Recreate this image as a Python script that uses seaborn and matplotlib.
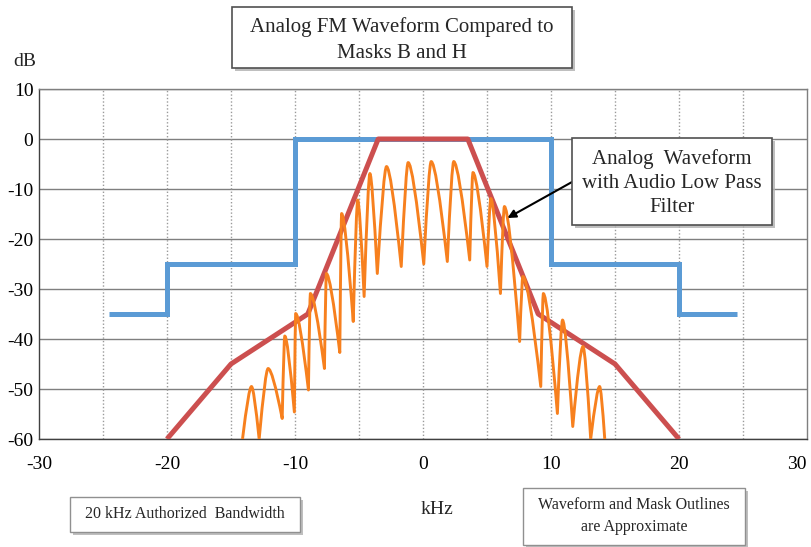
import numpy as np
import pandas as pd
import seaborn as sns
import matplotlib.pyplot as plt
import matplotlib.patheffects as pe
from matplotlib.path import Path
from matplotlib.patches import PathPatch, Rectangle

# mask B (blue) and mask H (red) outlines, kHz vs dB
mask_b_khz = [-24.5, -20, -20, -10, -10, 10, 10, 20, 20, 24.5]
mask_b_db = [-35, -35, -25, -25, 0, 0, -25, -25, -35, -35]
mask_h_khz = [-20, -15, -9, -3.5, 3.5, 9, 15, 20]
mask_h_db = [-60, -45, -35, 0, 0, -35, -45, -60]

# analog FM waveform: alternating trough / peak points
wave_khz = [-14.1, -13.4, -12.8, -12.1, -11.0, -10.8, -10.05, -9.95, -8.95, -8.8,
            -7.7, -7.55, -6.5, -6.36, -5.45, -5.1, -4.6, -4.15, -3.57, -2.85,
            -1.7, -1.16, 0.06, 0.64, 1.9, 2.4, 3.65, 3.9, 5.0, 5.3,
            6.05, 6.36, 7.55, 7.8, 9.2, 9.4, 10.5, 10.9, 11.7, 12.5,
            13.1, 13.8, 14.2]
wave_db = [-60, -49.5, -60, -45.9, -55.9, -39.4, -54.6, -34.9, -50.2, -30.9,
           -45.9, -26.9, -42.7, -14.9, -36.5, -12.2, -31.5, -6.9, -26.9, -5.5,
           -25.5, -4.7, -25.0, -4.5, -24.5, -4.5, -24.2, -6.7, -25.5, -11.9,
           -30.9, -13.5, -40.5, -27.5, -49.5, -30.9, -54.9, -36.2, -57.5, -41.5,
           -60, -49.5, -60]

x_ticks = [-30, -20, -10, 0, 10, 20, 30]
y_ticks = [10, 0, -10, -20, -30, -40, -50, -60]

sns.set_style('white')
plt.rcParams['font.family'] = ['Liberation Serif', 'DejaVu Serif']
plt.rcParams['axes.unicode_minus'] = False

W, H = 811, 547
fig = plt.figure(figsize=(W / 100, H / 100), dpi=100)
ax = fig.add_axes([39 / W, 108 / H, 768 / W, 350 / H])

masks = pd.DataFrame({'khz': mask_b_khz, 'db': mask_b_db})
sns.lineplot(data=masks, x='khz', y='db', sort=False, estimator=None, ax=ax,
             color='#5b9bd5', lw=3.6, solid_joinstyle='miter', solid_capstyle='butt', zorder=3)
maskh = pd.DataFrame({'khz': mask_h_khz, 'db': mask_h_db})
sns.lineplot(data=maskh, x='khz', y='db', sort=False, estimator=None, ax=ax,
             color='#cc4f4f', lw=3.6, solid_joinstyle='round', solid_capstyle='butt', zorder=4)

# waveform lobes drawn as rounded arches through the listed troughs/peaks
verts = [(wave_khz[0], wave_db[0])]
codes = [Path.MOVETO]
for i in range(1, len(wave_khz) - 1, 2):
    x0 = wave_khz[i - 1]
    xp, yp = wave_khz[i], wave_db[i]
    x1, y1 = wave_khz[i + 1], wave_db[i + 1]
    verts += [(x0 + 0.7 * (xp - x0), yp), (xp, yp), (x1 - 0.7 * (x1 - xp), yp), (x1, y1)]
    codes += [Path.CURVE3] * 4
ax.add_patch(PathPatch(Path(verts, codes), fill=False, edgecolor='#f7801e', lw=2.1,
                       joinstyle='round', zorder=5))

ax.set_xlim(-30, 30)
ax.set_ylim(-60, 10)
ax.set_xticks(x_ticks)
ax.set_yticks(y_ticks)
ax.set_xlabel('')
ax.set_ylabel('')
ax.tick_params(length=0, labelsize=14, colors='black')
ax.tick_params(axis='x', pad=12)
ax.tick_params(axis='y', pad=4)
ax.get_xticklabels()[-1].set_horizontalalignment('right')

for y in y_ticks:
    ax.axhline(y, color='#7f7f7f', lw=1.0, zorder=1)
for x in range(-25, 30, 5):
    ax.axvline(x, color='#9a9a9a', lw=1.0, ls=(0, (1, 1.5)), zorder=1)
for s in ax.spines.values():
    s.set_color('#7f7f7f')
    s.set_linewidth(1.0)
ax.spines['left'].set_color('#404040')
ax.spines['bottom'].set_color('#404040')

shadow = [pe.withSimplePatchShadow(offset=(2, -2), shadow_rgbFace='#b0b0b0', alpha=0.8)]


def box(x0, y0, x1, y1, ec='#505050', lw=1.2):
    # rectangle in pixel coordinates from the top-left corner
    r = Rectangle((x0 / W, 1 - y1 / H), (x1 - x0) / W, (y1 - y0) / H, transform=fig.transFigure,
                  fc='white', ec=ec, lw=lw, zorder=6)
    r.set_path_effects(shadow)
    fig.add_artist(r)


box(232, 7, 572, 68)
fig.text(402 / W, 1 - 40 / H, 'Analog FM Waveform Compared to\nMasks B and H',
         ha='center', va='center', fontsize=15, linespacing=1.45, zorder=7)

fig.text(25 / W, 1 - 62 / H, 'dB', ha='center', va='center', fontsize=14)
fig.text(437 / W, 1 - 510 / H, 'kHz', ha='center', va='center', fontsize=14)

box(572, 138, 772, 225)
fig.text(672 / W, 1 - 183 / H, 'Analog  Waveform\nwith Audio Low Pass\nFilter',
         ha='center', va='center', fontsize=15, linespacing=1.33, zorder=7)
ax.annotate('', xy=(6.6, -15.8), xytext=(572 / W, 1 - 182 / H), textcoords='figure fraction',
            arrowprops=dict(arrowstyle='-|>', color='black', lw=1.5, shrinkA=0, shrinkB=0,
                            mutation_scale=12), zorder=8)

box(70, 497, 300, 532, ec='#909090', lw=1.0)
fig.text(185 / W, 1 - 514 / H, '20 kHz Authorized  Bandwidth', ha='center', va='center',
         fontsize=11.5, zorder=7)
box(523, 488, 745, 545, ec='#909090', lw=1.0)
fig.text(634 / W, 1 - 516 / H, 'Waveform and Mask Outlines\nare Approximate', ha='center',
         va='center', fontsize=11.5, linespacing=1.45, zorder=7)

fig.savefig('out.png', dpi=100)
